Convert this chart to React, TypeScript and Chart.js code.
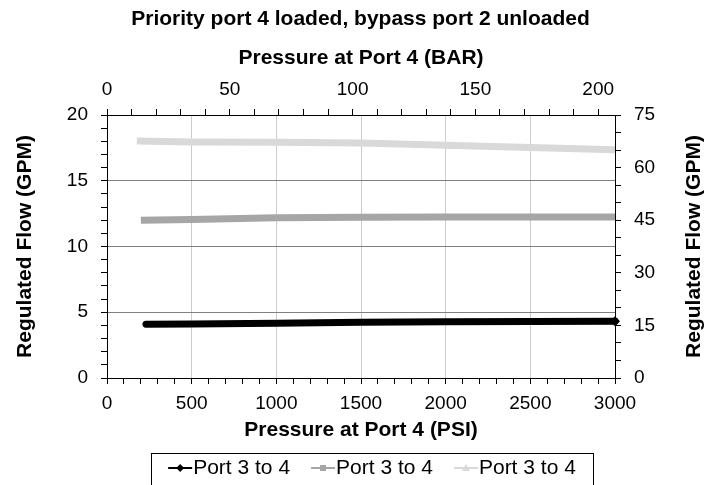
import React, { useEffect, useRef } from 'react';
import { Chart, registerables } from 'chart.js';

Chart.register(...registerables);

const titleText = 'Priority port 4 loaded, bypass port 2 unloaded';
const xTitle = 'Pressure at Port 4 (PSI)';
const x2Title = 'Pressure at Port 4 (BAR)';
const yTitle = 'Regulated Flow (GPM)';
const y1Title = 'Regulated Flow (GPM)';
const legendLabels = ['Port 3 to 4', 'Port 3 to 4', 'Port 3 to 4'];

const psiRange = [0, 3000];
const gpmRange = [0, 20];
const rightRange = [0, 75];
const psiPerBar = 14.5038;

const blackPsi = [230, 500, 1000, 1500, 2000, 2500, 3000];
const blackGpm = [4.08, 4.1, 4.17, 4.24, 4.28, 4.3, 4.32];
const grayPsi = [200, 500, 1000, 1500, 2000, 2500, 3000];
const grayGpm = [12.0, 12.05, 12.18, 12.22, 12.24, 12.24, 12.25];
const lightPsi = [176, 500, 1000, 1500, 2000, 2500, 3000];
const lightGpm = [18.02, 17.95, 17.93, 17.88, 17.7, 17.52, 17.35];

const FONT = '"Liberation Sans", Arial, Helvetica, sans-serif';
const W = 721;
const H = 485;
const AREA = { left: 107, right: 615, top: 115, bottom: 378 };

const toPoints = (xs: number[], ys: number[]) => xs.map((x, i) => ({ x, y: ys[i] }));

const markerStyles = ['diamond', 'square', 'triangle'];

const extrasPlugin = {
  id: 'extras',
  afterDraw(chart: any) {
    const ctx = chart.ctx as CanvasRenderingContext2D;
    const area = chart.chartArea;
    // right axis title, reading bottom-to-top like the left one
    ctx.save();
    ctx.font = `bold 21px ${FONT}`;
    ctx.fillStyle = '#000';
    ctx.textAlign = 'center';
    ctx.textBaseline = 'middle';
    ctx.translate(chart.scales.y1.right - 27, (area.top + area.bottom) / 2);
    ctx.rotate(-Math.PI / 2);
    ctx.fillText(y1Title, 0, 0);
    ctx.restore();

    // legend
    ctx.save();
    ctx.font = `21px ${FONT}`;
    const markerW = 24;
    const gap = 1;
    const spacing = 21;
    const widths = legendLabels.map((l) => ctx.measureText(l).width);
    const total = widths.reduce((a, b) => a + b + markerW + gap, 0) + spacing * (legendLabels.length - 1);
    const cx = 372;
    const boxPad = 17;
    const boxTop = 453;
    const boxBottom = 487;
    const left = cx - total / 2;
    ctx.strokeStyle = '#000';
    ctx.lineWidth = 1;
    ctx.strokeRect(Math.round(left - boxPad) + 0.5, boxTop + 0.5, Math.round(total + 2 * boxPad), boxBottom - boxTop);
    const cy = 468;
    let x = left;
    chart.data.datasets.forEach((ds: any, i: number) => {
      const color = ds.borderColor;
      ctx.strokeStyle = color;
      ctx.fillStyle = color;
      ctx.lineWidth = 2;
      ctx.beginPath();
      ctx.moveTo(x, cy);
      ctx.lineTo(x + markerW, cy);
      ctx.stroke();
      const mx = x + markerW / 2;
      const s = markerStyles[i];
      ctx.beginPath();
      if (s === 'diamond') {
        ctx.moveTo(mx, cy - 4);
        ctx.lineTo(mx + 4, cy);
        ctx.lineTo(mx, cy + 4);
        ctx.lineTo(mx - 4, cy);
        ctx.closePath();
      } else if (s === 'square') {
        ctx.rect(mx - 3, cy - 3, 6, 6);
      } else {
        ctx.moveTo(mx, cy - 4);
        ctx.lineTo(mx + 4, cy + 3);
        ctx.lineTo(mx - 4, cy + 3);
        ctx.closePath();
      }
      ctx.fill();
      ctx.fillStyle = '#000';
      ctx.textAlign = 'left';
      ctx.textBaseline = 'middle';
      ctx.fillText(legendLabels[i], x + markerW + gap, cy);
      x += markerW + gap + widths[i] + spacing;
    });
    ctx.restore();
  },
};

export default function App() {
  const ref = useRef<HTMLCanvasElement | null>(null);

  useEffect(() => {
    if (!ref.current) return;
    const tickFont = { family: FONT, size: 19 };
    const titleFont = { family: FONT, size: 21, weight: 'bold' as const };
    const lastOnly = (n: number, r: number) => Array.from({ length: n }, (_, i) => (i === n - 1 ? r : 0));
    const chart = new Chart(ref.current, {
      type: 'line',
      data: {
        datasets: [
          {
            label: legendLabels[0],
            data: toPoints(blackPsi, blackGpm),
            borderColor: '#000000',
            backgroundColor: '#000000',
            borderWidth: 7,
            borderCapStyle: 'round',
            pointStyle: 'rectRot',
            pointRadius: lastOnly(blackPsi.length, 5),
            pointBorderWidth: 0,
            clip: false,
            tension: 0,
            xAxisID: 'x',
            yAxisID: 'y',
          },
          {
            label: legendLabels[1],
            data: toPoints(grayPsi, grayGpm),
            borderColor: '#a6a6a6',
            backgroundColor: '#a6a6a6',
            borderWidth: 7,
            pointRadius: 0,
            tension: 0,
            xAxisID: 'x',
            yAxisID: 'y',
          },
          {
            label: legendLabels[2],
            data: toPoints(lightPsi, lightGpm),
            borderColor: '#d9d9d9',
            backgroundColor: '#d9d9d9',
            borderWidth: 7,
            pointRadius: 0,
            tension: 0,
            xAxisID: 'x',
            yAxisID: 'y',
          },
        ],
      },
      options: {
        responsive: false,
        animation: false,
        devicePixelRatio: 1,
        layout: { padding: 0, autoPadding: false },
        plugins: {
          legend: { display: false },
          tooltip: { enabled: false },
          title: {
            display: true,
            text: titleText,
            color: '#000',
            font: { family: FONT, size: 21, weight: 'bold' },
            padding: { top: 6.4, bottom: 0 },
          },
        },
        scales: {
          x: {
            type: 'linear',
            position: 'bottom',
            min: psiRange[0],
            max: psiRange[1],
            afterFit: (s: any) => {
              s.height = H - AREA.bottom;
            },
            ticks: {
              stepSize: 100,
              autoSkip: false,
              maxRotation: 0,
              color: '#000',
              font: tickFont,
              padding: 8,
              callback: (v: any) => (Number(v) % 500 === 0 ? String(v) : ''),
            },
            grid: {
              color: (c: any) =>
                c.tick && c.tick.value % 500 === 0 && c.tick.value > psiRange[0] && c.tick.value < psiRange[1]
                  ? '#cccccc'
                  : 'rgba(0,0,0,0)',
              tickColor: '#000',
              tickLength: 6,
              lineWidth: 1,
            },
            border: { display: true, color: '#000', width: 1 },
            title: {
              display: true,
              text: xTitle,
              color: '#000',
              font: titleFont,
              padding: { top: 0, bottom: 42 },
            },
          },
          x2: {
            type: 'linear',
            axis: 'x',
            position: 'top',
            min: psiRange[0] / psiPerBar,
            max: psiRange[1] / psiPerBar,
            afterFit: (s: any) => {
              const tb = s.chart.titleBlock ? s.chart.titleBlock.height : 0;
              s.height = AREA.top - tb;
            },
            afterBuildTicks: (s: any) => {
              s.ticks = s.ticks.filter((t: any) => Math.abs(t.value / 10 - Math.round(t.value / 10)) < 1e-6);
            },
            ticks: {
              stepSize: 10,
              includeBounds: false,
              autoSkip: false,
              maxRotation: 0,
              color: '#000',
              font: tickFont,
              padding: 8,
              callback: (v: any) => (Math.round(Number(v)) % 50 === 0 ? String(Math.round(Number(v))) : ''),
            },
            grid: {
              drawOnChartArea: false,
              tickColor: '#000',
              tickLength: 6,
            },
            border: { display: true, color: '#000', width: 1 },
            title: {
              display: true,
              text: x2Title,
              color: '#000',
              font: titleFont,
              padding: { top: 13.8, bottom: 0 },
            },
          },
          y: {
            type: 'linear',
            position: 'left',
            min: gpmRange[0],
            max: gpmRange[1],
            afterFit: (s: any) => {
              s.width = AREA.left;
            },
            ticks: {
              stepSize: 1,
              autoSkip: false,
              color: '#000',
              font: tickFont,
              padding: 13,
              callback: (v: any) => (Number(v) % 5 === 0 ? String(v) : ''),
            },
            grid: {
              color: (c: any) =>
                c.tick && c.tick.value % 5 === 0 && c.tick.value > gpmRange[0] && c.tick.value < gpmRange[1]
                  ? '#808080'
                  : 'rgba(0,0,0,0)',
              tickColor: '#000',
              tickLength: 6,
              lineWidth: 1,
            },
            border: { display: true, color: '#000', width: 1 },
            title: {
              display: true,
              text: yTitle,
              color: '#000',
              font: titleFont,
              padding: { top: 13, bottom: 0 },
            },
          },
          y1: {
            type: 'linear',
            position: 'right',
            min: rightRange[0],
            max: rightRange[1],
            afterFit: (s: any) => {
              s.width = W - AREA.right;
            },
            ticks: {
              stepSize: 5,
              autoSkip: false,
              color: '#000',
              font: tickFont,
              padding: 13,
              callback: (v: any) => (Number(v) % 15 === 0 ? String(v) : ''),
            },
            grid: {
              drawOnChartArea: false,
              tickColor: '#000',
              tickLength: 6,
            },
            border: { display: true, color: '#000', width: 1 },
            title: { display: false },
          },
        },
      },
      plugins: [extrasPlugin],
    });
    return () => chart.destroy();
  }, []);

  return (
    <div style={{ position: 'fixed', left: 0, top: 0, width: W, height: H, background: '#fff' }}>
      <canvas ref={ref} width={W} height={H} style={{ width: W, height: H, display: 'block' }} />
    </div>
  );
}
